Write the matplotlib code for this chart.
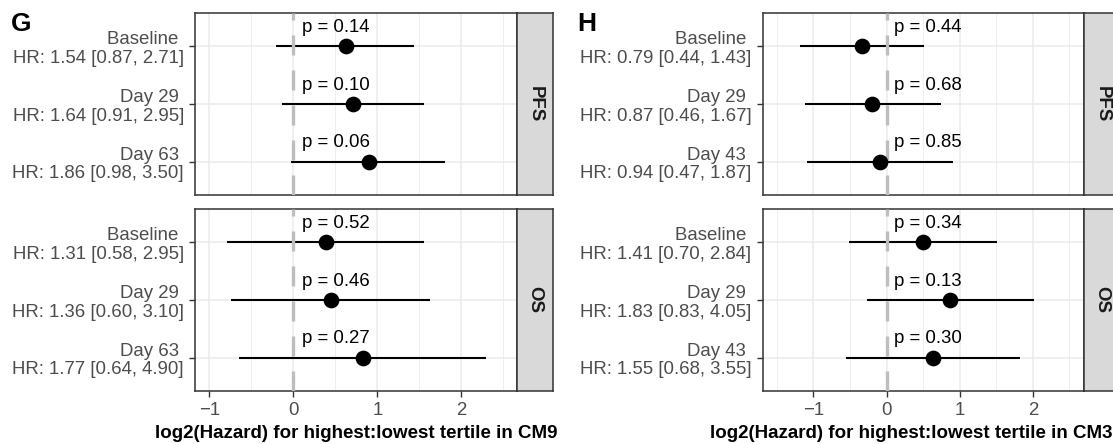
import numpy as np
import matplotlib
matplotlib.use("Agg")
import matplotlib.pyplot as plt

plt.rcParams['font.family'] = ['Liberation Sans', 'DejaVu Sans']

# ---------------- data ----------------
g_times = ["Baseline", "Day 29", "Day 63"]
g_pfs_hr = [1.54, 1.64, 1.86]
g_pfs_lo = [0.87, 0.91, 0.98]
g_pfs_hi = [2.71, 2.95, 3.50]
g_pfs_p = [0.14, 0.10, 0.06]
g_os_hr = [1.31, 1.36, 1.77]
g_os_lo = [0.58, 0.60, 0.64]
g_os_hi = [2.95, 3.10, 4.90]
g_os_p = [0.52, 0.46, 0.27]

h_times = ["Baseline", "Day 29", "Day 43"]
h_pfs_hr = [0.79, 0.87, 0.94]
h_pfs_lo = [0.44, 0.46, 0.47]
h_pfs_hi = [1.43, 1.67, 1.87]
h_pfs_p = [0.44, 0.68, 0.85]
h_os_hr = [1.41, 1.83, 1.55]
h_os_lo = [0.70, 0.83, 0.68]
h_os_hi = [2.84, 4.05, 3.55]
h_os_p = [0.34, 0.13, 0.30]

x_ticks = [-1, 0, 1, 2]
facet_names = ["PFS", "OS"]
g_xlabel = "log2(Hazard) for highest:lowest tertile in CM9"
h_xlabel = "log2(Hazard) for highest:lowest tertile in CM38"

# ---------------- layout ----------------
W, H = 1113, 444
fig = plt.figure(figsize=(W / 100, H / 100), dpi=100)
fig.patch.set_facecolor("white")

def rect(x0, y0, x1, y1):
    return [x0 / W, 1 - y1 / H, (x1 - x0) / W, (y1 - y0) / H]

BORDER = "#333333"
TICKC = "#4D4D4D"
GRID = "#EBEBEB"
STRIP = "#D9D9D9"
FS = 13.4

def draw_facet(ax, times, hr, lo, hi, pv, xlim, show_x):
    y = np.arange(1, len(times) + 1)
    ax.set_xlim(*xlim)
    ax.set_ylim(3.58, 0.42)
    ax.set_xticks(x_ticks)
    minors = [m for m in np.arange(-2.5, 3.0, 1.0) if xlim[0] < m < xlim[1]]
    ax.set_xticks(minors, minor=True)
    ax.set_yticks(y)
    labels = [f"{t} \nHR: {h:.2f} [{l:.2f}, {u:.2f}]" for t, h, l, u in zip(times, hr, lo, hi)]
    ax.set_yticklabels(labels, linespacing=1.12, ha="right")
    ax.grid(which="major", color=GRID, lw=1.1)
    ax.grid(which="minor", axis="x", color=GRID, lw=0.6)
    ax.set_axisbelow(True)
    ax.hlines(y, np.log2(lo), np.log2(hi), color="black", lw=1.5, zorder=2)
    ax.axvline(0, color="#BEBEBE", lw=2.4, ls=(0, (6, 4.5)), zorder=3)
    ax.plot(np.log2(hr), y, "o", color="black", ms=10.3, zorder=4)
    for yi, p in zip(y, pv):
        ax.text(0.1, yi - 0.25, f"p = {p:.2f}", fontsize=FS, ha="left", va="baseline",
                color="black", zorder=5)
    for s in ax.spines.values():
        s.set_color(BORDER)
        s.set_linewidth(1.1)
    ax.tick_params(axis="y", length=4, width=1, color=BORDER, labelcolor=TICKC,
                   labelsize=FS, pad=4)
    ax.tick_params(axis="x", which="minor", length=0)
    if show_x:
        ax.tick_params(axis="x", which="major", length=4, width=1, color=BORDER,
                       labelcolor=TICKC, labelsize=FS, pad=4)
    else:
        ax.tick_params(axis="x", which="major", length=0, labelbottom=False)

def draw_strip(ax, name):
    ax.set_facecolor(STRIP)
    ax.set_xticks([])
    ax.set_yticks([])
    for s in ax.spines.values():
        s.set_color(BORDER)
        s.set_linewidth(1.1)
    ax.text(0.5, 0.5, name, rotation=-90, ha="center", va="center", fontsize=FS,
            fontweight="bold", color="#1A1A1A", transform=ax.transAxes)

panels = [
    (195, 517, 553, (-1.17, 2.662), g_times,
     [(g_pfs_hr, g_pfs_lo, g_pfs_hi, g_pfs_p), (g_os_hr, g_os_lo, g_os_hi, g_os_p)]),
    (762.5, 1084, 1120, (-1.696, 2.70), h_times,
     [(h_pfs_hr, h_pfs_lo, h_pfs_hi, h_pfs_p), (h_os_hr, h_os_lo, h_os_hi, h_os_p)]),
]
rows = [(13, 195), (209, 391)]

for (x0, x1, xs, xlim, times, facets) in panels:
    for i, ((y0, y1), (hr, lo, hi, pv)) in enumerate(zip(rows, facets)):
        ax = fig.add_axes(rect(x0, y0, x1, y1))
        draw_facet(ax, times, hr, lo, hi, pv, xlim, show_x=(i == 1))
        sax = fig.add_axes(rect(x1, y0, xs, y1))
        draw_strip(sax, facet_names[i])

fig.text(356 / W, 1 - 433 / H, g_xlabel, ha="center", va="center", fontsize=13.5,
         fontweight="bold", color="black")
fig.text(710 / W, 1 - 433 / H, h_xlabel, ha="left", va="center", fontsize=13.5,
         fontweight="bold", color="black")

fig.text(11 / W, 1 - 31 / H, "G", ha="left", va="baseline", fontsize=19,
         fontweight="bold", color="black")
fig.text(577 / W, 1 - 31 / H, "H", ha="left", va="baseline", fontsize=19,
         fontweight="bold", color="black")

fig.savefig("out.png", dpi=100, facecolor="white")
